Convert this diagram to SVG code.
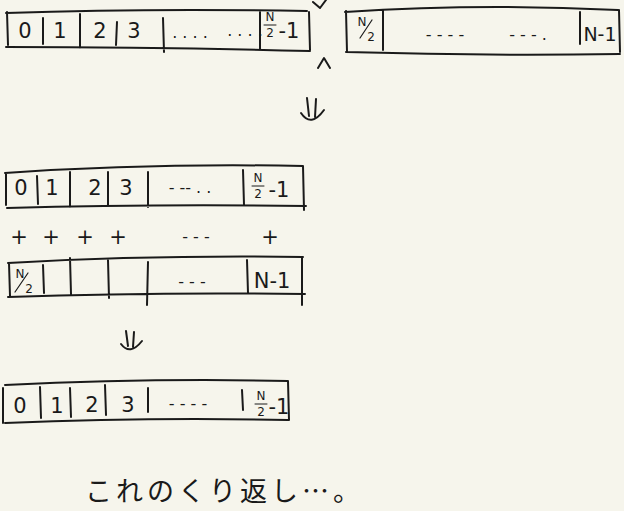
<svg xmlns="http://www.w3.org/2000/svg" width="624" height="511" viewBox="0 0 624 511">
<style>
.ln{fill:none;stroke:#1a1a1a;stroke-width:2;stroke-linecap:round;stroke-linejoin:round}
.t{font-family:"DejaVu Sans","Liberation Sans",sans-serif;font-size:21px;fill:#1a1a1a;text-anchor:middle}
.s{font-family:"DejaVu Sans","Liberation Sans",sans-serif;font-size:12px;fill:#1a1a1a;text-anchor:middle}
.d{font-family:"DejaVu Sans","Liberation Sans",sans-serif;font-size:16px;fill:#1a1a1a;text-anchor:middle}
.j{font-family:"Noto Sans CJK JP",sans-serif;font-size:27px;fill:#1a1a1a}
</style>
<rect width="624" height="511" fill="#f6f5ec"/>

<g id="array-top-left">
<path class="ln" d="M6,13 Q150,8 307,11 M6,47 Q160,47 310,51 M7,12 L8,45 M309,12 L310,50 M43,18 L43,44 M80,14 L80,48 M117,22 L116,45 M163,18 L164,52 M260,12 L260,50"/>
<text class="t" x="25" y="38">0</text>
<text class="t" x="60" y="38">1</text>
<text class="t" x="100" y="38">2</text>
<text class="t" x="134" y="38">3</text>
<text class="d" x="190" y="38">. . . .</text>
<text class="d" x="245" y="36">. . . .</text>
<text class="s" x="270" y="21">N</text>
<path class="ln" d="M264,25 L276,25" style="stroke-width:1"/>
<text class="s" x="270" y="37">2</text>
<text class="t" x="289" y="38">-1</text>
</g>

<g id="array-top-right">
<path class="ln" d="M345,12 Q480,3 618,10 M346,52 Q480,56 620,54 M346,11 L347,52 M619,10 L620,52 M383,10 L383,50 M580,12 L580,44"/>
<text class="s" x="362" y="26">N</text>
<path class="ln" d="M360,38 L372,20" style="stroke-width:1.2"/>
<text class="s" x="371" y="41">2</text>
<text class="d" x="445" y="40">- - - -</text>
<text class="d" x="528" y="40">- - - .</text>
<text class="t" x="600" y="41" style="font-size:19px">N-1</text>
</g>

<g id="marks">
<path class="ln" d="M313,2 L320,8 L326,0 M318,68 L324,58 L330,68"/>
</g>

<g id="arrow-1">
<path class="ln" d="M307,98 L309,116 M316,99 L315,117 M301,113 Q311,128 324,110"/>
</g>

<g id="array-a">
<path class="ln" d="M5,173 Q150,163 303,166 M7,208 Q150,204 306,206 M6,173 L6,205 M303,166 L304,210 M37,176 L38,204 M70,172 L70,207 M108,172 L108,205 M148,172 L148,207 M243,170 L244,205"/>
<text class="t" x="21" y="195">0</text>
<text class="t" x="52" y="195">1</text>
<text class="t" x="95" y="195">2</text>
<text class="t" x="126" y="195">3</text>
<text class="d" x="190" y="193">- -- . .</text>
<text class="s" x="258" y="182">N</text>
<path class="ln" d="M252,186 L264,186" style="stroke-width:1"/>
<text class="s" x="258" y="198">2</text>
<text class="t" x="279" y="197">-1</text>
</g>

<g id="plus-row">
<text class="t" x="19" y="244">+</text>
<text class="t" x="51" y="244">+</text>
<text class="t" x="85" y="244">+</text>
<text class="t" x="118" y="244">+</text>
<text class="d" x="196" y="242">- - -</text>
<text class="t" x="270" y="244">+</text>
</g>

<g id="array-b">
<path class="ln" d="M8,263 Q150,255 303,257 M8,297 Q150,292 305,294 M9,263 L10,296 M302,258 L302,305 M43,265 L44,293 M70,258 L71,294 M108,260 L109,298 M148,262 L147,305 M247,260 L248,293"/>
<text class="s" x="20" y="278">N</text>
<path class="ln" d="M15,292 L28,273" style="stroke-width:1.2"/>
<text class="s" x="29" y="293">2</text>
<text class="d" x="192" y="287">- - -</text>
<text class="t" x="272" y="288">N-1</text>
</g>

<g id="arrow-2">
<path class="ln" d="M126,331 L128,346 M134,332 L133,347 M121,344 Q130,356 142,341"/>
</g>

<g id="array-c">
<path class="ln" d="M5,385 Q150,378 288,381 M5,423 Q150,417 288,420 M3,388 L3,423 M288,381 L289,420 M40,387 L41,418 M70,388 L71,417 M105,385 L106,415 M148,388 L148,412 M242,390 L243,410"/>
<text class="t" x="20" y="413">0</text>
<text class="t" x="57" y="413">1</text>
<text class="t" x="92" y="412">2</text>
<text class="t" x="128" y="412">3</text>
<text class="d" x="188" y="409">- - - -</text>
<text class="s" x="261" y="400">N</text>
<path class="ln" d="M255,404 L267,404" style="stroke-width:1"/>
<text class="s" x="261" y="416">2</text>
<text class="t" x="279" y="414">-1</text>
</g>

<g id="caption">
<text class="j" x="85" y="501" letter-spacing="4">これのくり返し…。</text>
</g>
</svg>
